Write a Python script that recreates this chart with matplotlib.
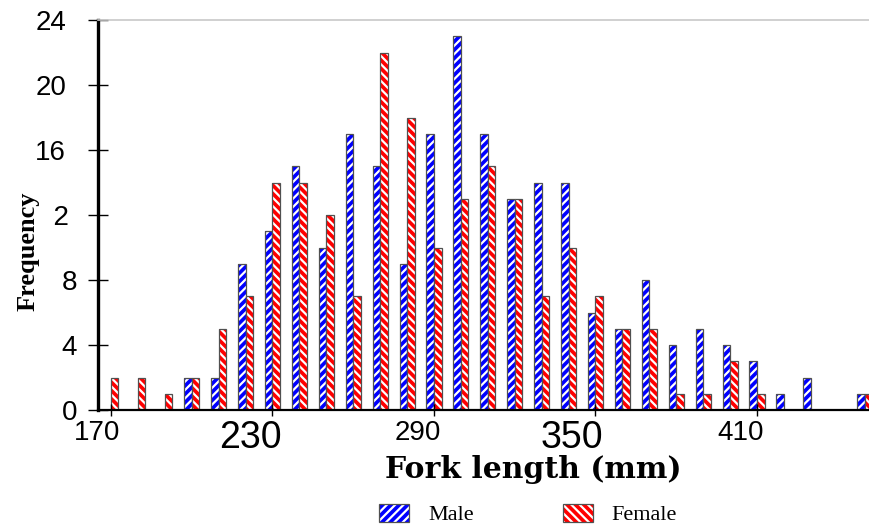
import matplotlib
matplotlib.use("Agg")
import matplotlib.pyplot as plt
from matplotlib.patches import Patch
from matplotlib.legend_handler import HandlerTuple
from matplotlib.transforms import ScaledTranslation

# fork length classes (mm) and counts per sex
lengths = list(range(170, 460, 10))
male = [0, 0, 0, 2, 2, 9, 11, 15, 10, 17, 15, 9, 17, 23, 17,
        13, 14, 14, 6, 5, 8, 4, 5, 4, 3, 1, 2, 0, 1]
female = [2, 2, 1, 2, 5, 7, 14, 14, 12, 7, 22, 18, 10, 13, 15,
          13, 7, 10, 7, 5, 5, 1, 1, 3, 1, 0, 0, 0, 1]

x_ticks = [170, 230, 290, 350, 410]
x_tick_sizes = [20, 27, 20, 27, 20]
x_tick_shift = [-14, -22, -16, -24, -16]   # px, as in the original
y_ticks = [0, 4, 8, 12, 16, 20, 24]
y_tick_shift = [0, 0, 0, -7, -11, -11, -11]

plt.rcParams["hatch.linewidth"] = 1.6

W, H = 869, 529
fig = plt.figure(figsize=(W / 100, H / 100), dpi=100)
ax = fig.add_axes([98 / W, 119 / H, 771 / W, 390 / H])

bw = 2.8
outline = "#505050"
m_left = [v - bw for v in lengths]
ax.bar(m_left, male, width=bw, align="edge", color="#0000ff",
       edgecolor="white", hatch="////", linewidth=0)
ax.bar(m_left, male, width=bw, align="edge", fill=False,
       edgecolor=outline, linewidth=0.9)
ax.bar(lengths, female, width=bw, align="edge", color="#ff0000",
       edgecolor="white", hatch="\\\\\\\\", linewidth=0)
ax.bar(lengths, female, width=bw, align="edge", fill=False,
       edgecolor=outline, linewidth=0.9)

ax.set_xlim(165.2, 451.6)
ax.set_ylim(0, 24)

ax.spines["right"].set_visible(False)
ax.spines["top"].set_color("#c8c8c8")
ax.spines["top"].set_linewidth(1.2)
ax.spines["left"].set_linewidth(2.4)
ax.spines["bottom"].set_linewidth(1.6)

ax.set_xticks(x_ticks)
ax.set_yticks(y_ticks)
ax.tick_params(axis="x", direction="inout", length=8, width=1, pad=3,
               labelsize=20)
ax.tick_params(axis="y", direction="inout", length=14, width=1, pad=8,
               labelsize=20)

for lab, sz, dx in zip(ax.get_xticklabels(), x_tick_sizes, x_tick_shift):
    lab.set_fontfamily("Liberation Sans")
    lab.set_fontsize(sz)
    lab.set_transform(lab.get_transform() +
                      ScaledTranslation(dx / 100, 0, fig.dpi_scale_trans))
for lab, dx in zip(ax.get_yticklabels(), y_tick_shift):
    lab.set_fontfamily("Liberation Sans")
    lab.set_transform(lab.get_transform() +
                      ScaledTranslation(dx / 100, 0, fig.dpi_scale_trans))

fig.text(28 / W, 1 - 251 / H, "Frequency", rotation=90, ha="center",
         va="center", family="Liberation Serif", weight="bold", size=19,
         bbox=dict(boxstyle="square,pad=0.55", fc="white", ec="none"))
fig.text(533 / W, 1 - 469 / H, "Fork length (mm)", ha="center",
         va="center", family="DejaVu Serif", weight="bold", size=21.5)

h_m = (Patch(facecolor="#0000ff", edgecolor="white", hatch="////", lw=0),
       Patch(fill=False, edgecolor=outline, lw=0.9))
h_f = (Patch(facecolor="#ff0000", edgecolor="white", hatch="\\\\\\\\", lw=0),
       Patch(fill=False, edgecolor=outline, lw=0.9))
fig.legend([h_m, h_f], ["Male", "Female"], ncol=2, frameon=False,
           loc="center left", bbox_to_anchor=(379 / W, 1 - 514.5 / H),
           handler_map={tuple: HandlerTuple(ndivide=1)},
           prop={"family": "Liberation Serif", "size": 16},
           handlelength=1.35, handleheight=0.86, handletextpad=0.86,
           columnspacing=4.0, borderpad=0, borderaxespad=0)

fig.savefig("out.png", dpi=100)
